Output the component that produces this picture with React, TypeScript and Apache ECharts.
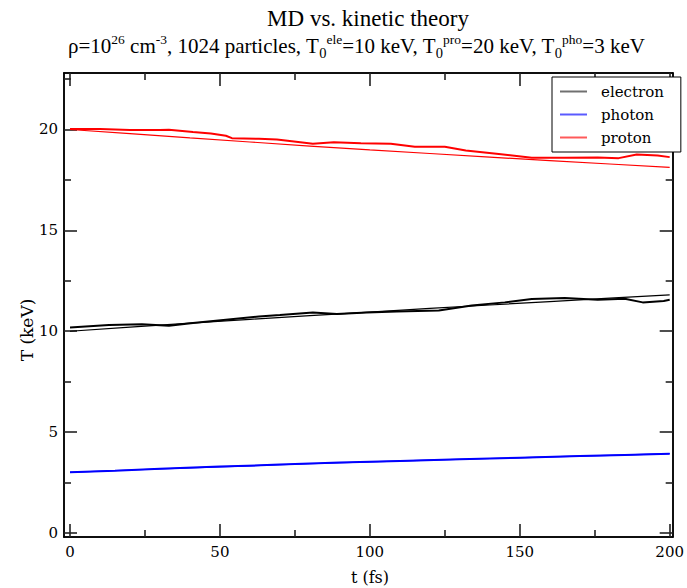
import React, { useEffect, useRef } from 'react';
import * as echarts from 'echarts';

// Tick values
const xMajor = [0, 50, 100, 150, 200];
const xMinor = [25, 75, 125, 175];
const yMajor = [0, 5, 10, 15, 20];
const yMinor = [2.5, 7.5, 12.5, 17.5, 22.5];

// MD simulation (noisy) curves
const tMDProton = [0, 10, 20, 30, 33, 41, 47, 52, 54, 63, 69, 74, 81, 88, 97, 107, 115, 125, 132, 143, 154, 165, 176, 183, 189, 196, 200];
const vMDProton = [20.03, 20.02, 19.98, 19.97, 19.99, 19.88, 19.8, 19.69, 19.57, 19.54, 19.5, 19.42, 19.29, 19.37, 19.32, 19.29, 19.14, 19.14, 18.96, 18.79, 18.6, 18.6, 18.61, 18.58, 18.76, 18.71, 18.63];

const tMDElectron = [0, 13, 24, 33, 41, 52, 63, 70, 81, 89, 99, 109, 123, 134, 145, 154, 165, 176, 185, 191, 198, 200];
const vMDElectron = [10.19, 10.31, 10.34, 10.27, 10.41, 10.57, 10.73, 10.8, 10.93, 10.85, 10.93, 10.98, 11.03, 11.28, 11.43, 11.6, 11.65, 11.56, 11.61, 11.43, 11.5, 11.56];

const tMDPhoton = [0, 15, 30, 50, 70, 90, 110, 130, 150, 170, 185, 200];
const vMDPhoton = [3.01, 3.09, 3.18, 3.29, 3.39, 3.49, 3.57, 3.65, 3.73, 3.81, 3.87, 3.93];

// Kinetic theory curves
const tTheory = [0, 20, 40, 60, 80, 100, 120, 140, 160, 180, 200];
const vThElectron = [10.0, 10.2, 10.4, 10.59, 10.77, 10.95, 11.13, 11.3, 11.47, 11.64, 11.8];
const vThProton = [20.0, 19.79, 19.58, 19.38, 19.18, 18.99, 18.81, 18.63, 18.46, 18.29, 18.12];
const vThPhoton = [3.0, 3.12, 3.23, 3.33, 3.43, 3.52, 3.61, 3.69, 3.77, 3.85, 3.93];

const names = ['electron', 'photon', 'proton'];
const colors = ['#000000', '#0000ff', '#ff0000'];
const legendColors = ['#707070', '#5a5aff', '#ff5a5a'];

const zip = (t: number[], v: number[]) => t.map((x, i) => [x, v[i]]);

const SERIF = '"DejaVu Serif", serif';
const TIMES = '"Liberation Serif", serif';

function makeX(position: string, values: number[], len: number, labels: boolean) {
  return {
    type: 'value',
    min: -2,
    max: 201,
    position,
    axisLine: { show: true, onZero: false, lineStyle: { color: '#000', width: 1.5 } },
    axisTick: { show: true, inside: true, length: len, customValues: values, lineStyle: { color: '#222', width: 1.6 } },
    axisLabel: labels
      ? { show: true, customValues: values, fontFamily: SERIF, fontSize: 15, color: '#000', margin: 7 }
      : { show: false },
    splitLine: { show: false },
  };
}

function makeY(position: string, values: number[], len: number, labels: boolean) {
  return {
    type: 'value',
    min: -0.2,
    max: 22.8,
    position,
    axisLine: { show: true, onZero: false, lineStyle: { color: '#000', width: 1.5 } },
    axisTick: { show: true, inside: true, length: len, customValues: values, lineStyle: { color: '#222', width: 1.6 } },
    axisLabel: labels
      ? { show: true, customValues: values, fontFamily: SERIF, fontSize: 15, color: '#000', margin: 6 }
      : { show: false },
    splitLine: { show: false },
  };
}

export default function App() {
  const ref = useRef<HTMLDivElement>(null);
  useEffect(() => {
    if (!ref.current) return;
    const chart = echarts.init(ref.current, undefined, { renderer: 'svg' });
    const mdData = [zip(tMDElectron, vMDElectron), zip(tMDPhoton, vMDPhoton), zip(tMDProton, vMDProton)];
    const thData = [zip(tTheory, vThElectron), zip(tTheory, vThPhoton), zip(tTheory, vThProton)];
    const series: any[] = [];
    names.forEach((n, i) => {
      series.push({
        type: 'line', name: n, data: thData[i], showSymbol: false, symbol: 'none',
        lineStyle: { color: colors[i], width: 1.2 }, itemStyle: { color: colors[i] },
      });
      series.push({
        type: 'line', name: n, data: mdData[i], showSymbol: false, symbol: 'none',
        lineStyle: { color: colors[i], width: 2 }, itemStyle: { color: colors[i] },
      });
    });
    chart.setOption({
      animation: false,
      grid: { left: 64, right: 14, top: 73, bottom: 51, containLabel: false },
      xAxis: [
        makeX('bottom', xMajor, 13, true),
        makeX('bottom', xMinor, 7, false),
        makeX('top', xMajor, 13, false),
        makeX('top', xMinor, 7, false),
      ],
      yAxis: [
        makeY('left', yMajor, 13, true),
        makeY('left', yMinor, 7, false),
        makeY('right', yMajor, 13, false),
        makeY('right', yMinor, 7, false),
      ],
      legend: {
        data: names.map((n, i) => ({ name: n, itemStyle: { color: legendColors[i] } })),
        orient: 'vertical',
        left: 552,
        top: 77,
        padding: [7, 17, 7, 8],
        icon: 'rect',
        itemWidth: 27,
        itemHeight: 2,
        itemGap: 8,
        backgroundColor: '#fff',
        borderColor: '#000',
        borderWidth: 1,
        borderRadius: 0,
        textStyle: { fontFamily: SERIF, fontSize: 15, color: '#000', padding: [0, 0, 0, 9] },
      },
      graphic: [
        {
          type: 'text', x: 368, y: 18,
          style: { text: 'MD vs. kinetic theory', fontFamily: TIMES, fontSize: 23, fill: '#000', align: 'center', verticalAlign: 'middle' },
        },
        {
          type: 'text', x: 68, y: 46,
          style: {
            text: '{n|ρ=10}{sup|26}{n| cm}{sup|-3}{n|, 1024 particles, T}{sub|0}{sup|ele}{n|=10 keV, T}{sub|0}{sup|pro}{n|=20 keV, T}{sub|0}{sup|pho}{n|=3 keV}',
            align: 'left', verticalAlign: 'middle', fill: '#000',
            rich: {
              n: { fontFamily: TIMES, fontSize: 21, lineHeight: 28, verticalAlign: 'middle', fill: '#000' },
              sup: { fontFamily: TIMES, fontSize: 13.5, lineHeight: 12, verticalAlign: 'top', fill: '#000' },
              sub: { fontFamily: TIMES, fontSize: 14.5, lineHeight: 12, verticalAlign: 'bottom', fill: '#000' },
            },
          },
        },
        {
          type: 'text', x: 27, y: 330, rotation: Math.PI / 2,
          style: { text: 'T (keV)', fontFamily: SERIF, fontSize: 17, fill: '#000', align: 'center', verticalAlign: 'middle' },
        },
        {
          type: 'text', x: 370, y: 577,
          style: { text: 't (fs)', fontFamily: SERIF, fontSize: 16, fill: '#000', align: 'center', verticalAlign: 'middle' },
        },
      ],
      series,
    });
    return () => chart.dispose();
  }, []);
  return <div ref={ref} style={{ width: 687, height: 588, position: 'absolute', left: 0, top: 0, background: '#fff' }} />;
}
